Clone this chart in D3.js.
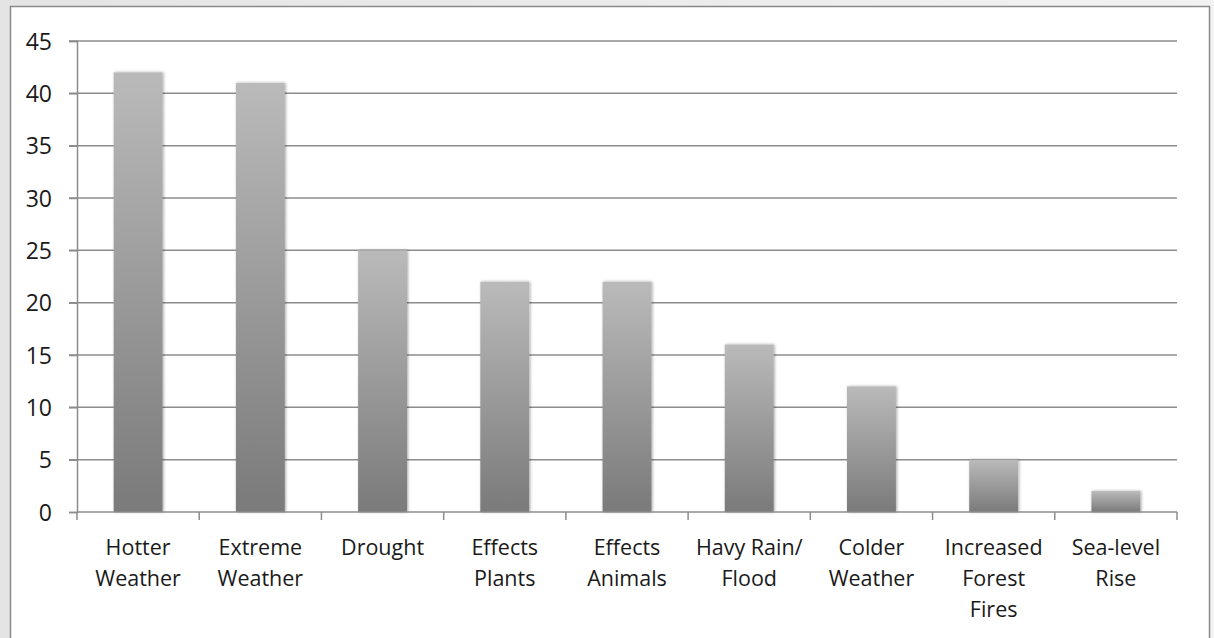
<!DOCTYPE html>
<html><head><meta charset="utf-8">
<script src="https://cdn.jsdelivr.net/npm/d3@7"></script>
<style>
html,body{margin:0;padding:0;background:#ececec;}
svg{display:block;}
</style></head>
<body>
<svg id="chart" width="1214" height="638"></svg>
<script>
const categories = [["Hotter","Weather"],["Extreme","Weather"],["Drought"],["Effects","Plants"],["Effects","Animals"],["Havy Rain/","Flood"],["Colder","Weather"],["Increased","Forest","Fires"],["Sea-level","Rise"]];
const values = [42, 41, 25, 22, 22, 16, 12, 5, 2];
const yTicks = [0,5,10,15,20,25,30,35,40,45];

(function(){
const svg = d3.select("#chart");
const defs = svg.append("defs");
const bg = defs.append("linearGradient").attr("id","bgGrad").attr("x1",0).attr("x2",1).attr("y1",0).attr("y2",0);
bg.append("stop").attr("offset","0%").attr("stop-color","#e4e4e4");
bg.append("stop").attr("offset","100%").attr("stop-color","#f2f2f2");
const g1 = defs.append("linearGradient").attr("id","barGrad").attr("x1",0).attr("x2",0).attr("y1",0).attr("y2",1);
g1.append("stop").attr("offset","0%").attr("stop-color","#bababa");
g1.append("stop").attr("offset","100%").attr("stop-color","#7a7a7a");
const f = defs.append("filter").attr("id","shadow").attr("x","-20%").attr("y","-20%").attr("width","140%").attr("height","140%");
f.append("feGaussianBlur").attr("in","SourceAlpha").attr("stdDeviation",1.5).attr("result","b");
f.append("feOffset").attr("in","b").attr("dx",1).attr("dy",0).attr("result","o");
f.append("feComponentTransfer").attr("in","o").attr("result","o2").append("feFuncA").attr("type","linear").attr("slope",0.35);
const fm = f.append("feMerge"); fm.append("feMergeNode").attr("in","o2"); fm.append("feMergeNode").attr("in","SourceGraphic");

svg.append("rect").attr("width",1214).attr("height",638).attr("fill","url(#bgGrad)");
svg.append("rect").attr("x",10.5).attr("y",6.5).attr("width",1199).attr("height",640)
  .attr("fill","#fff").attr("stroke","#8a8a8a").attr("stroke-width",1.5);

const pLeft = 77, pRight = 1177, pTop = 41, pBottom = 512;
const x = d3.scaleBand().domain(d3.range(categories.length)).range([pLeft,pRight]).paddingInner(0.6).paddingOuter(0.3);
const xb = d3.scaleBand().domain(d3.range(categories.length)).range([pLeft,pRight]);
const y = d3.scaleLinear().domain([0,45]).range([pBottom,pTop]);

const font = "'Open Sans', 'Liberation Sans', sans-serif";

svg.append("g").selectAll("line").data(yTicks.filter(d=>d>0)).join("line")
  .attr("x1",pLeft-8).attr("x2",pRight).attr("y1",d=>y(d)).attr("y2",d=>y(d))
  .attr("stroke","#8c8c8c").attr("stroke-width",1.5);

const yAxis = svg.append("g").attr("transform",`translate(${pLeft},0)`)
  .call(d3.axisLeft(y).tickValues(yTicks).tickSize(8).tickPadding(17));
yAxis.select(".domain").attr("stroke","#8c8c8c").attr("stroke-width",1.5);
yAxis.selectAll(".tick line").attr("stroke","#8c8c8c").attr("stroke-width",1.5);
yAxis.selectAll("text").attr("font-family",font).attr("font-size",23).attr("fill","#1a1a1a").attr("dy","0.36em");

svg.append("g").selectAll("rect").data(values).join("rect")
  .attr("x",(d,i)=>x(i)).attr("width",x.bandwidth())
  .attr("y",d=>y(d)).attr("height",d=>pBottom-y(d))
  .attr("fill","url(#barGrad)").attr("filter","url(#shadow)");

const xAxis = svg.append("g").attr("transform",`translate(0,${pBottom})`);
xAxis.append("line").attr("x1",pLeft).attr("x2",pRight).attr("stroke","#8c8c8c").attr("stroke-width",1.5);
xAxis.selectAll("line.tk").data(d3.range(categories.length+1)).join("line").attr("class","tk")
  .attr("x1",i=>i<categories.length?xb(i):pRight).attr("x2",i=>i<categories.length?xb(i):pRight)
  .attr("y1",0).attr("y2",8).attr("stroke","#8c8c8c").attr("stroke-width",1.5);

const lab = svg.append("g").selectAll("text").data(categories).join("text")
  .attr("x",(d,i)=>xb(i)+xb.bandwidth()/2).attr("y",555)
  .attr("text-anchor","middle").attr("font-family",font).attr("font-size",21.5).attr("fill","#1a1a1a");
lab.selectAll("tspan").data(d=>d).join("tspan")
  .attr("x",function(){return this.parentNode.getAttribute("x");})
  .attr("dy",(d,i)=>i===0?0:31).text(d=>d);
})();
</script>
</body></html>
